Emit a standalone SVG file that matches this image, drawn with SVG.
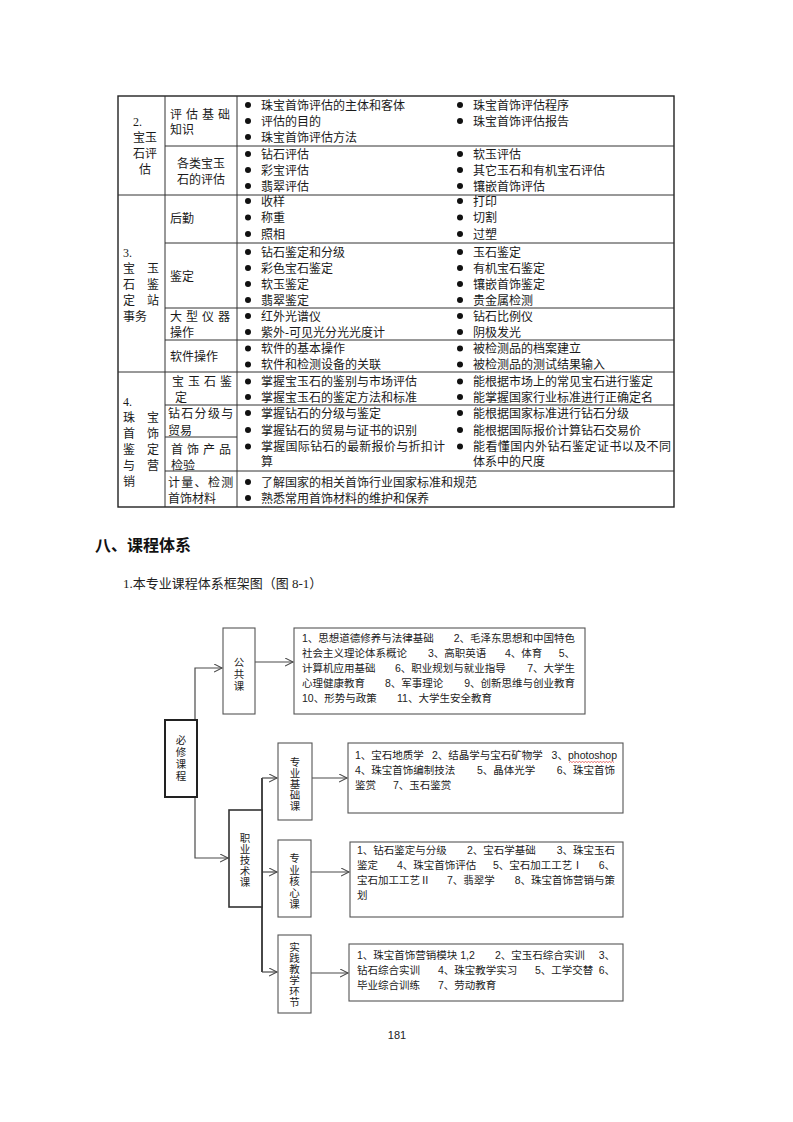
<svg xmlns="http://www.w3.org/2000/svg" width="793" height="1122" viewBox="0 0 793 1122">
<style>
.t{font-family:"Liberation Serif","Noto Sans CJK SC",serif;font-size:12px;fill:#1a1a1a}
.d{font-family:"Liberation Sans","Noto Sans CJK SC",sans-serif;font-size:10.5px;fill:#222}
.v{font-family:"Noto Sans CJK SC",sans-serif;font-size:10.5px;fill:#222;text-anchor:middle;writing-mode:vertical-rl}
.ln{stroke:#333;stroke-width:1;fill:none}
.bx{fill:#fff;stroke:#555;stroke-width:1.1}
.cn{stroke:#4a4a4a;stroke-width:1.2;fill:none}
.r{text-anchor:end}
.m{text-anchor:middle}
</style>
<defs>
<marker id="ar" markerWidth="10" markerHeight="10" refX="8" refY="4" orient="auto" markerUnits="userSpaceOnUse">
<path d="M0,0 L8,4 L0,8" fill="none" stroke="#4a4a4a" stroke-width="1.1"/>
</marker>
</defs>
<rect width="793" height="1122" fill="#fff"/>

<!-- TABLE -->
<g id="table">
<rect x="118" y="96" width="556" height="411" fill="none" stroke="#222" stroke-width="1.4"/>
<path class="ln" d="M165,96V507 M237,96V507 M118,195H674 M118,372H674 M165,146H674 M165,243H674 M165,308H674 M165,340H674 M165,405H674 M165,471H674 M165,437H237"/>
<g id="bullets" fill="#111">
<circle cx="248" cy="105" r="3"/><circle cx="248" cy="121" r="3"/><circle cx="248" cy="137" r="3"/>
<circle cx="460" cy="105" r="3"/><circle cx="460" cy="121" r="3"/>
<circle cx="248" cy="154" r="3"/><circle cx="248" cy="170" r="3"/><circle cx="248" cy="186" r="3"/>
<circle cx="460" cy="154" r="3"/><circle cx="460" cy="170" r="3"/><circle cx="460" cy="186" r="3"/>
<circle cx="248" cy="201" r="3"/><circle cx="248" cy="217.5" r="3"/><circle cx="248" cy="234" r="3"/>
<circle cx="460" cy="201" r="3"/><circle cx="460" cy="217.5" r="3"/><circle cx="460" cy="234" r="3"/>
<circle cx="248" cy="252" r="3"/><circle cx="248" cy="268" r="3"/><circle cx="248" cy="284" r="3"/><circle cx="248" cy="300" r="3"/>
<circle cx="460" cy="252" r="3"/><circle cx="460" cy="268" r="3"/><circle cx="460" cy="284" r="3"/><circle cx="460" cy="300" r="3"/>
<circle cx="248" cy="316" r="3"/><circle cx="248" cy="332" r="3"/>
<circle cx="460" cy="316" r="3"/><circle cx="460" cy="332" r="3"/>
<circle cx="248" cy="348.5" r="3"/><circle cx="248" cy="364.5" r="3"/>
<circle cx="460" cy="348.5" r="3"/><circle cx="460" cy="364.5" r="3"/>
<circle cx="248" cy="381.5" r="3"/><circle cx="248" cy="397" r="3"/><circle cx="248" cy="413" r="3"/><circle cx="248" cy="430" r="3"/><circle cx="248" cy="446.5" r="3"/>
<circle cx="460" cy="381.5" r="3"/><circle cx="460" cy="397" r="3"/><circle cx="460" cy="413" r="3"/><circle cx="460" cy="430" r="3"/><circle cx="460" cy="446.5" r="3"/>
<circle cx="248" cy="482" r="3"/><circle cx="248" cy="498" r="3"/>
</g>
<g id="sec2">
<text class="t" x="133" y="125.5">2.</text>
<text class="t m" x="145" y="141.5">宝玉</text>
<text class="t m" x="145" y="157.5">石评</text>
<text class="t m" x="145" y="173.5">估</text>
<text class="t" x="170" y="118.5" letter-spacing="4">评估基础</text>
<text class="t" x="170" y="133.5">知识</text>
<text class="t m" x="201" y="167.5">各类宝玉</text>
<text class="t m" x="201" y="183.5">石的评估</text>
<text class="t" x="261" y="109.5">珠宝首饰评估的主体和客体</text>
<text class="t" x="261" y="125.5">评估的目的</text>
<text class="t" x="261" y="141.5">珠宝首饰评估方法</text>
<text class="t" x="473" y="109.5">珠宝首饰评估程序</text>
<text class="t" x="473" y="125.5">珠宝首饰评估报告</text>
<text class="t" x="261" y="158.5">钻石评估</text>
<text class="t" x="261" y="174.5">彩宝评估</text>
<text class="t" x="261" y="190.5">翡翠评估</text>
<text class="t" x="473" y="158.5">软玉评估</text>
<text class="t" x="473" y="174.5">其它玉石和有机宝石评估</text>
<text class="t" x="473" y="190.5">镶嵌首饰评估</text>
</g>
<g id="sec3">
<text class="t" x="123" y="256.5">3.</text>
<text class="t" x="123" y="272.5">宝</text><text class="t" x="147" y="272.5">玉</text>
<text class="t" x="123" y="288.5">石</text><text class="t" x="147" y="288.5">鉴</text>
<text class="t" x="123" y="304.5">定</text><text class="t" x="147" y="304.5">站</text>
<text class="t" x="123" y="320.5">事务</text>
<text class="t" x="170" y="222.5">后勤</text>
<text class="t" x="170" y="280.5">鉴定</text>
<text class="t" x="170" y="320.5" letter-spacing="4">大型仪器</text>
<text class="t" x="170" y="336.5">操作</text>
<text class="t" x="170" y="360.5">软件操作</text>
<text class="t" x="261" y="205.5">收样</text>
<text class="t" x="261" y="222">称重</text>
<text class="t" x="261" y="238.5">照相</text>
<text class="t" x="473" y="205.5">打印</text>
<text class="t" x="473" y="222">切割</text>
<text class="t" x="473" y="238.5">过塑</text>
<text class="t" x="261" y="256.5">钻石鉴定和分级</text>
<text class="t" x="261" y="272.5">彩色宝石鉴定</text>
<text class="t" x="261" y="288.5">软玉鉴定</text>
<text class="t" x="261" y="304.5">翡翠鉴定</text>
<text class="t" x="473" y="256.5">玉石鉴定</text>
<text class="t" x="473" y="272.5">有机宝石鉴定</text>
<text class="t" x="473" y="288.5">镶嵌首饰鉴定</text>
<text class="t" x="473" y="304.5">贵金属检测</text>
<text class="t" x="261" y="320.5">红外光谱仪</text>
<text class="t" x="261" y="336.5">紫外-可见光分光光度计</text>
<text class="t" x="473" y="320.5">钻石比例仪</text>
<text class="t" x="473" y="336.5">阴极发光</text>
<text class="t" x="261" y="353">软件的基本操作</text>
<text class="t" x="261" y="369">软件和检测设备的关联</text>
<text class="t" x="473" y="353">被检测品的档案建立</text>
<text class="t" x="473" y="369">被检测品的测试结果输入</text>
</g>
<g id="sec4">
<text class="t" x="123" y="405.5">4.</text>
<text class="t" x="123" y="421.5">珠</text><text class="t" x="147" y="421.5">宝</text>
<text class="t" x="123" y="437.5">首</text><text class="t" x="147" y="437.5">饰</text>
<text class="t" x="123" y="453.5">鉴</text><text class="t" x="147" y="453.5">定</text>
<text class="t" x="123" y="469.5">与</text><text class="t" x="147" y="469.5">营</text>
<text class="t" x="123" y="485.5">销</text>
<text class="t" x="172" y="386" letter-spacing="4">宝玉石鉴</text>
<text class="t" x="175" y="401.5">定</text>
<text class="t" x="168" y="417.5" letter-spacing="1.3">钻石分级与</text>
<text class="t" x="168" y="434.5">贸易</text>
<text class="t" x="171" y="454" letter-spacing="4">首饰产品</text>
<text class="t" x="171" y="469.5">检验</text>
<text class="t" x="168" y="487" letter-spacing="1.3">计量、检测</text>
<text class="t" x="168" y="502.5">首饰材料</text>
<text class="t" x="261" y="386">掌握宝玉石的鉴别与市场评估</text>
<text class="t" x="261" y="401.5">掌握宝玉石的鉴定方法和标准</text>
<text class="t" x="261" y="417.5">掌握钻石的分级与鉴定</text>
<text class="t" x="261" y="434.5">掌握钻石的贸易与证书的识别</text>
<text class="t" x="261" y="451" textLength="184" lengthAdjust="spacing">掌握国际钻石的最新报价与折扣计</text>
<text class="t" x="261" y="465.5">算</text>
<text class="t" x="261" y="486.5">了解国家的相关首饰行业国家标准和规范</text>
<text class="t" x="261" y="502.5">熟悉常用首饰材料的维护和保养</text>
<text class="t" x="473" y="386">能根据市场上的常见宝石进行鉴定</text>
<text class="t" x="473" y="401.5">能掌握国家行业标准进行正确定名</text>
<text class="t" x="473" y="417.5">能根据国家标准进行钻石分级</text>
<text class="t" x="473" y="434.5">能根据国际报价计算钻石交易价</text>
<text class="t" x="473" y="451" textLength="198" lengthAdjust="spacing">能看懂国内外钻石鉴定证书以及不同</text>
<text class="t" x="473" y="465.5">体系中的尺度</text>
</g>
</g>

<!-- HEADINGS -->
<text x="95" y="551" font-family="'Liberation Sans','Noto Sans CJK SC',sans-serif" font-size="16" font-weight="bold" fill="#111">八、课程体系</text>
<text x="123" y="588" font-family="'Liberation Serif','Noto Sans CJK SC',serif" font-size="13" fill="#222">1.本专业课程体系框架图（图 8-1）</text>

<!-- CONNECTORS -->
<g id="connectors">
<path class="cn" d="M195,720 V668 H222" marker-end="url(#ar)"/>
<path class="cn" d="M255,662 H293" marker-end="url(#ar)"/>
<path class="cn" d="M195,797 V858 H228" marker-end="url(#ar)"/>
<path d="M262,778 V972" stroke="#333" stroke-width="1.8" fill="none"/>
<path class="cn" d="M262,778 H277" marker-end="url(#ar)"/>
<path class="cn" d="M312,778 H347" marker-end="url(#ar)"/>
<path class="cn" d="M262,872 H277" marker-end="url(#ar)"/>
<path class="cn" d="M311,872 H349" marker-end="url(#ar)"/>
<path class="cn" d="M262,972 H277" marker-end="url(#ar)"/>
<path class="cn" d="M311,973 H348" marker-end="url(#ar)"/>
</g>

<!-- NODES -->
<g id="n-bixiu">
<rect x="165" y="720" width="32" height="77" fill="#fff" stroke="#222" stroke-width="2"/>
<text class="v" x="181" y="759" letter-spacing="1.5">必修课程</text>
</g>
<g id="n-gonggong">
<rect class="bx" x="223" y="628" width="32" height="86"/>
<text class="v" x="239" y="675" letter-spacing="1.5">公共课</text>
</g>
<g id="n-gonggong-list">
<rect class="bx" x="294" y="628" width="291" height="86"/>
<text class="d" x="302" y="642">1、思想道德修养与法律基础</text><text class="d r" x="575" y="642">2、毛泽东思想和中国特色</text>
<text class="d" x="302" y="657">社会主义理论体系概论</text><text class="d" x="428" y="657">3、高职英语</text><text class="d" x="505" y="657">4、体育</text><text class="d r" x="575" y="657">5、</text>
<text class="d" x="302" y="672">计算机应用基础</text><text class="d" x="395" y="672">6、职业规划与就业指导</text><text class="d r" x="575" y="672">7、大学生</text>
<text class="d" x="302" y="687">心理健康教育</text><text class="d" x="385" y="687">8、军事理论</text><text class="d r" x="575" y="687">9、创新思维与创业教育</text>
<text class="d" x="302" y="702">10、形势与政策</text><text class="d" x="397" y="702">11、大学生安全教育</text>
</g>
<g id="n-zhiye">
<rect x="229" y="810" width="33" height="97" fill="#fff" stroke="#333" stroke-width="1.6"/>
<text class="v" x="245" y="860" letter-spacing="0.5">职业技术课</text>
</g>
<g id="n-jichu">
<rect class="bx" x="278" y="743" width="34" height="77"/>
<text class="v" x="295" y="784" letter-spacing="0.5">专业基础课</text>
</g>
<g id="n-jichu-list">
<rect class="bx" x="348" y="743" width="275" height="70"/>
<text class="d" x="355" y="759">1、宝石地质学</text><text class="d" x="432" y="759">2、结晶学与宝石矿物学</text><text class="d r" x="617" y="759">3、photoshop</text>
<path d="M569,762.5 l1.5,-1 1.5,1 1.5,-1 1.5,1 1.5,-1 1.5,1 1.5,-1 1.5,1 1.5,-1 1.5,1 1.5,-1 1.5,1 1.5,-1 1.5,1 1.5,-1 1.5,1 1.5,-1 1.5,1 1.5,-1 1.5,1 1.5,-1 1.5,1 1.5,-1 1.5,1 1.5,-1 1.5,1 1.5,-1 1.5,1 1.5,-1 1.5,1" fill="none" stroke="#d33" stroke-width="0.7"/>
<text class="d" x="355" y="774">4、珠宝首饰编制技法</text><text class="d" x="477" y="774">5、晶体光学</text><text class="d r" x="615" y="774">6、珠宝首饰</text>
<text class="d" x="355" y="789">鉴赏</text><text class="d" x="393" y="789">7、玉石鉴赏</text>
</g>
<g id="n-hexin">
<rect class="bx" x="278" y="840" width="33" height="77"/>
<text class="v" x="294.5" y="882" letter-spacing="1">专业核心课</text>
</g>
<g id="n-hexin-list">
<rect class="bx" x="350" y="842" width="273" height="75"/>
<text class="d" x="357" y="854">1、钻石鉴定与分级</text><text class="d" x="467" y="854">2、宝石学基础</text><text class="d r" x="615" y="854">3、珠宝玉石</text>
<text class="d" x="357" y="869">鉴定</text><text class="d" x="397" y="869">4、珠宝首饰评估</text><text class="d" x="493" y="869">5、宝石加工工艺Ⅰ</text><text class="d r" x="615" y="869">6、</text>
<text class="d" x="357" y="884">宝石加工工艺Ⅱ</text><text class="d" x="447" y="884">7、翡翠学</text><text class="d r" x="615" y="884">8、珠宝首饰营销与策</text>
<text class="d" x="357" y="899">划</text>
</g>
<g id="n-shijian">
<rect class="bx" x="278" y="935" width="33" height="78"/>
<text class="v" x="294.5" y="975" letter-spacing="0.5">实践教学环节</text>
</g>
<g id="n-shijian-list">
<rect class="bx" x="349" y="944" width="274" height="57"/>
<text class="d" x="357" y="959">1、珠宝首饰营销模块 1,2</text><text class="d" x="495" y="959">2、宝玉石综合实训</text><text class="d r" x="615" y="959">3、</text>
<text class="d" x="357" y="974">钻石综合实训</text><text class="d" x="438" y="974">4、珠宝教学实习</text><text class="d" x="535" y="974">5、工学交替</text><text class="d r" x="615" y="974">6、</text>
<text class="d" x="357" y="989">毕业综合训练</text><text class="d" x="438" y="989">7、劳动教育</text>
</g>

<text x="397" y="1039" font-family="'Liberation Sans',sans-serif" font-size="11" fill="#222" text-anchor="middle">181</text>
</svg>
